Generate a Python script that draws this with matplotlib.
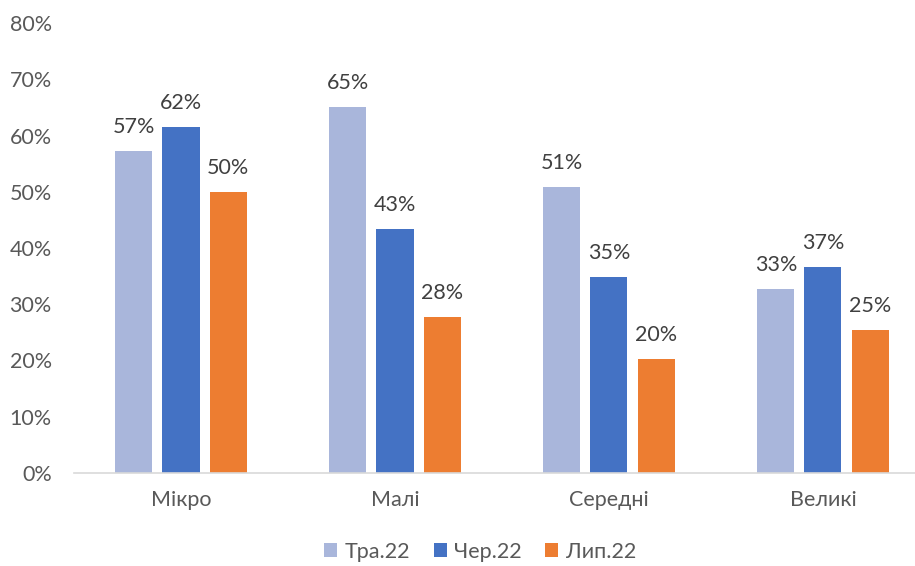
import numpy as np
import matplotlib.pyplot as plt

# Data
categories = ["Мікро", "Малі", "Середні", "Великі"]
series_names = ["Тра.22", "Чер.22", "Лип.22"]
tra = [57.2, 65.1, 50.9, 32.7]
cher = [61.6, 43.4, 34.8, 36.6]
lyp = [50.0, 27.8, 20.3, 25.4]
colors = ["#A9B6DB", "#4472C4", "#ED7D31"]

plt.rcParams['font.family'] = ['Lato', 'DejaVu Sans']

fig = plt.figure(figsize=(9.15, 5.66), dpi=100)
ax = fig.add_axes([74 / 915, 93 / 566, 841 / 915, 450 / 566])

x = np.arange(len(categories))
width = 0.173
step = 0.22
text_color = "#595959"
fs = 15.5

for i, (vals, name, col) in enumerate(zip([tra, cher, lyp], series_names, colors)):
    pos = x + (i - 1) * step
    bars = ax.bar(pos, vals, width, color=col, label=name)
    for b, v in zip(bars, vals):
        ax.annotate(f"{round(v):.0f}%", (b.get_x() + b.get_width() / 2, v),
                    xytext=(0, 10), textcoords="offset points",
                    ha="center", va="bottom", fontsize=fs, color="#404040")

ax.set_xlim(-0.5, 3.43)
ax.set_ylim(0, 80)
ax.set_yticks(range(0, 81, 10))
ax.set_yticklabels([f"{t}%" for t in range(0, 81, 10)])
ax.set_xticks(x)
ax.set_xticklabels(categories)
ax.tick_params(axis="y", length=0, pad=16, labelsize=fs, labelcolor=text_color)
ax.tick_params(axis="x", length=0, pad=12, labelsize=fs, labelcolor=text_color)

for s in ["top", "right", "left"]:
    ax.spines[s].set_visible(False)
ax.spines["bottom"].set_color("#D9D9D9")
ax.spines["bottom"].set_linewidth(1.2)

# legend kept just inside the bottom edge
handles, labels = ax.get_legend_handles_labels()
fig.legend(handles, labels, loc="lower center", bbox_to_anchor=(480 / 915, 0.0),
           ncol=3, frameon=False, fontsize=fs, handlelength=0.6, handleheight=0.6,
           handletextpad=0.35, columnspacing=1.1, labelcolor=text_color,
           borderaxespad=0.1, borderpad=0.1)

fig.savefig("out.png", dpi=100)
